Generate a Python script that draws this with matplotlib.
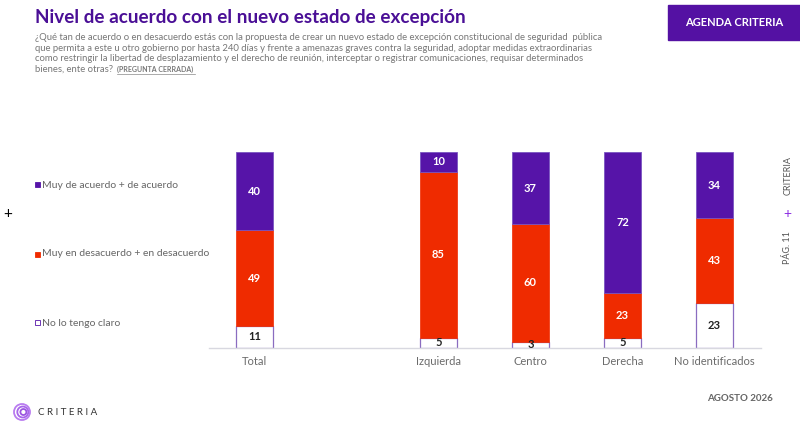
import matplotlib
matplotlib.use("Agg")
import matplotlib.pyplot as plt
from matplotlib.patches import Rectangle, Circle
import numpy as np

categories = ["Total", "Izquierda", "Centro", "Derecha", "No identificados"]
positions = [0, 2, 3, 4, 5]
acuerdo = [40, 10, 37, 72, 34]
desacuerdo = [49, 85, 60, 23, 43]
no_claro = [11, 5, 3, 5, 23]
legend_labels = ["Muy de acuerdo + de acuerdo", "Muy en desacuerdo + en desacuerdo", "No lo tengo claro"]

PURPLE = "#5614a8"
RED = "#ef2b00"
GRAY = "#6b6b6b"
FONT = "Lato"
plt.rcParams['font.family'] = [FONT, 'DejaVu Sans']

W, H = 800, 423
fig = plt.figure(figsize=(W/100, H/100), dpi=100)

def fx(px):
    return px / W
def fy(py):
    return 1 - py / H

# Axes
left, right = 208.5, 760.5
bottom, top = 347.5, 152
ax = fig.add_axes([fx(left), fy(bottom), fx(right) - fx(left), fy(top) - fy(bottom)])
ax.set_xlim(-0.5, 5.5)
ax.set_ylim(0, 100)
bw = 0.4
ax.bar(positions, no_claro, bw, color="white", edgecolor="#8a6cc0", linewidth=0.9, zorder=2)
ax.bar(positions, desacuerdo, bw, bottom=no_claro, color=RED, edgecolor=RED, linewidth=0.5, zorder=2)
b2 = np.array(no_claro) + np.array(desacuerdo)
ax.bar(positions, acuerdo, bw, bottom=b2, color=PURPLE, edgecolor="#7a55c0", linewidth=0.6, zorder=2)

for p, n, d, a in zip(positions, no_claro, desacuerdo, acuerdo):
    ax.text(p, n/2, str(n), ha="center", va="center", fontsize=8, fontweight="bold", color="#222222")
    ax.text(p, n + d/2, str(d), ha="center", va="center", fontsize=8, fontweight="bold", color="white")
    ax.text(p, n + d + a/2, str(a), ha="center", va="center", fontsize=8, fontweight="bold", color="white")

for s in ["top", "right", "left"]:
    ax.spines[s].set_visible(False)
ax.spines["bottom"].set_color("#d8d8e0")
ax.spines["bottom"].set_linewidth(1)
ax.set_yticks([])
ax.set_xticks(positions)
ax.set_xticklabels(categories, fontsize=8, color=GRAY)
ax.tick_params(axis="x", length=0, pad=6)

# Title and subtitle
fig.text(fx(35), fy(18), "Nivel de acuerdo con el nuevo estado de excepción", fontsize=13.6,
         fontweight="bold", color="#4a0f96", va="center", ha="left")
sub_lines = [
    "¿Qué tan de acuerdo o en desacuerdo estás con la propuesta de crear un nuevo estado de excepción constitucional de seguridad  pública",
    "que permita a este u otro gobierno por hasta 240 días y frente a amenazas graves contra la seguridad, adoptar medidas extraordinarias",
    "como restringir la libertad de desplazamiento y el derecho de reunión, interceptar o registrar comunicaciones, requisar determinados",
    "bienes, ente otras?",
]
for i, line in enumerate(sub_lines):
    fig.text(fx(35), fy(38 + 10.4 * i), line, fontsize=6.8, color="#777777", va="center", ha="left")
fig.text(fx(117), fy(69.2), "(PREGUNTA CERRADA)", fontsize=5, color="#777777", va="center", ha="left",
         fontweight="bold")
fig.add_artist(plt.Line2D([fx(117), fx(195)], [fy(74.5), fy(74.5)], color="#888888", lw=0.5))

# Top-right box
fig.add_artist(Rectangle((fx(668), fy(40)), fx(800) - fx(668), fy(5) - fy(40),
                         transform=fig.transFigure, color="#5411a3", zorder=1))
fig.text(fx(734), fy(23), "AGENDA CRITERIA", fontsize=8, fontweight="bold", color="white",
         ha="center", va="center")

# Legend
leg_y = [185, 254, 323]
leg_fc = [PURPLE, RED, "white"]
leg_ec = [PURPLE, RED, "#5614a8"]
for y, lab, fc, ec in zip(leg_y, legend_labels, leg_fc, leg_ec):
    fig.add_artist(Rectangle((fx(35), fy(y + 2.5)), 5/W, 5/H, transform=fig.transFigure,
                             facecolor=fc, edgecolor=ec, linewidth=0.6))
    fig.text(fx(42), fy(y), lab, fontsize=7.5, color="#666666", va="center", ha="left")

fig.text(fx(8), fy(214), "+", fontsize=11, color="black", ha="center", va="center")

# Right vertical texts
fig.text(fx(788), fy(175), "CRITERIA", fontsize=6.5, color="#555555", rotation=90, ha="center", va="center")
fig.text(fx(787), fy(214), "+", fontsize=10, color="#8a2be2", ha="center", va="center")
fig.text(fx(788), fy(248), "PÁG. 11", fontsize=6.5, color="#555555", rotation=90, ha="center", va="center")

# Footer
fig.text(fx(773), fy(398), "AGOSTO 2026", fontsize=7, fontweight="bold", color="#666666",
         ha="right", va="center")
lax = fig.add_axes([fx(12), fy(422), 20/W, 20/H])
lax.set_xlim(-10, 10)
lax.set_ylim(-10, 10)
lax.set_aspect("equal")
lax.axis("off")
for r, c, cx in zip([8, 5.5, 3], ["#b97cf0", "#a866ea", "#9b55e0"], [0, 0.8, 1.4]):
    lax.add_patch(Circle((cx, 0), r, fill=False, edgecolor=c, linewidth=1.3))
fig.text(fx(38), fy(412), "C R I T E R I A", fontsize=7, color="#333333", ha="left", va="center")

fig.savefig("out.png", dpi=100)
